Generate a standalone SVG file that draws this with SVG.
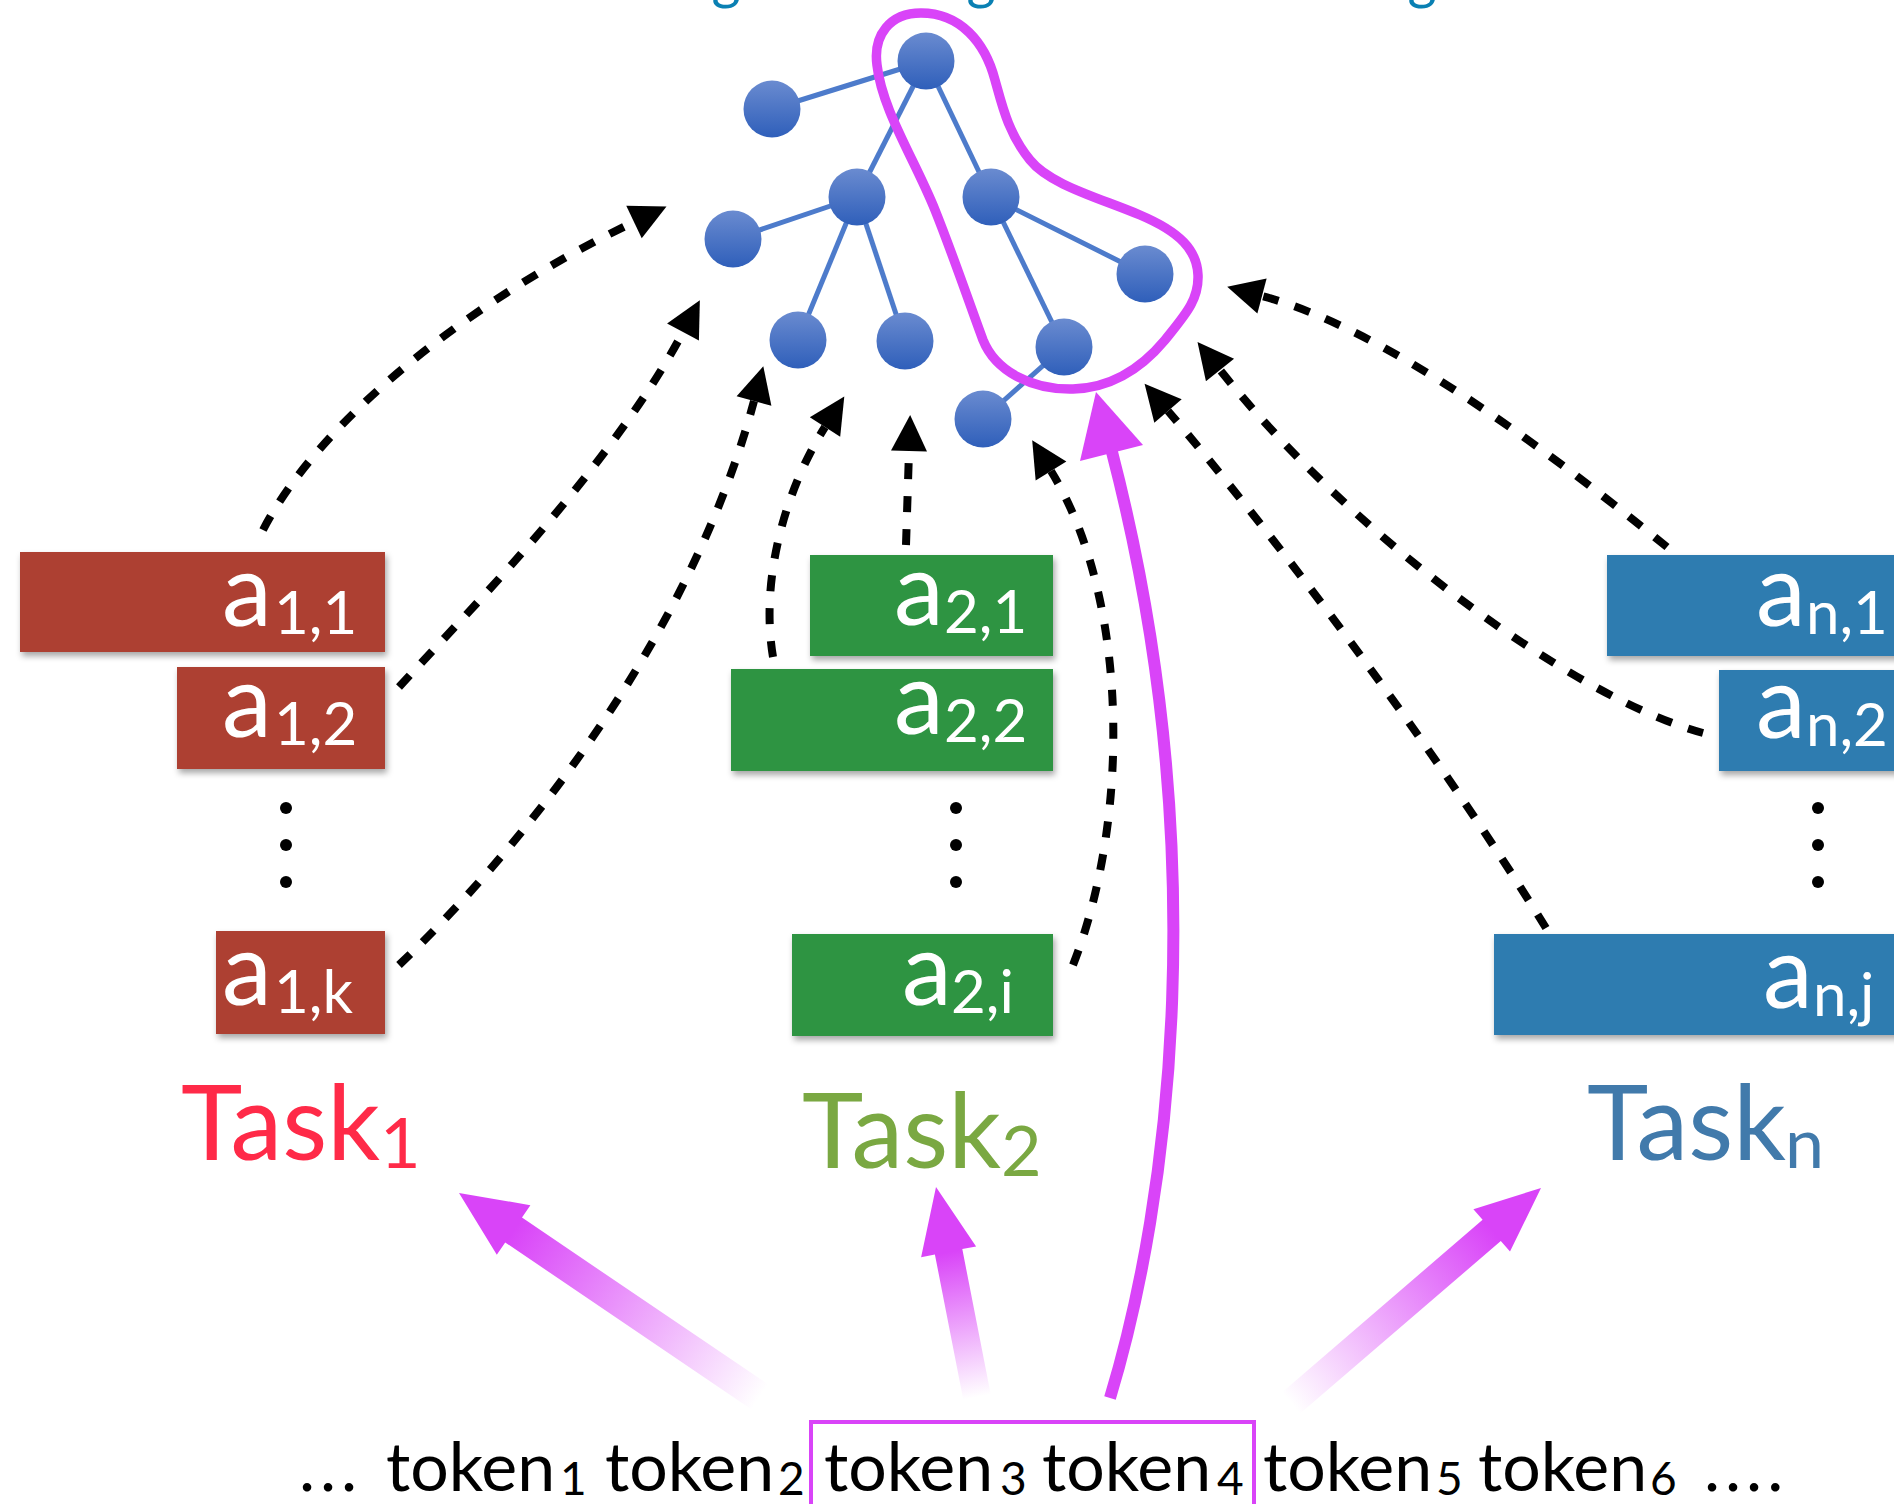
<svg xmlns="http://www.w3.org/2000/svg" width="1894" height="1504" viewBox="0 0 1894 1504">
  <defs>
    <style>
      .lbl { font-family: Lato, "Liberation Sans", sans-serif; font-size: 100px; fill: #ffffff; }
      .sub { font-size: 60px; }
      .task { font-family: Lato, "Liberation Sans", sans-serif; font-size: 104px; }
      .tsub { font-size: 70px; }
      .tok { font-family: Lato, "Liberation Sans", sans-serif; font-size: 68px; fill: #000000; }
      .toksub { font-size: 46px; }
      .ell { letter-spacing: 5px; }
      .ttl { font-family: Lato, "Liberation Sans", sans-serif; font-size: 56px; fill: #0a80b3; text-anchor: middle; }
      .dash { fill: none; stroke: #000000; stroke-width: 8; stroke-dasharray: 16 17; marker-end: url(#head); }
      .edge { stroke: #4d7bcb; stroke-width: 5; }
      .node { fill: url(#nodeFill); }
      .dot { fill: #000000; }
      .red { fill: #ad4131; }
      .green { fill: #2f9442; }
      .blue { fill: #2f7bb0; }
      .box { filter: url(#shadow); }
      .mag { fill: none; stroke: #d944f8; }
    </style>
    <linearGradient id="nodeFill" x1="0" y1="0" x2="0" y2="1">
      <stop offset="0" stop-color="#6a8bd0"/>
      <stop offset="1" stop-color="#2f5fba"/>
    </linearGradient>
    <marker id="head" markerUnits="userSpaceOnUse" markerWidth="36" markerHeight="36" viewBox="0 0 36 36" refX="0" refY="18" orient="auto" overflow="visible">
      <path d="M0,0 L36,18 L0,36 Z" fill="#000000"/>
    </marker>
    <filter id="shadow" x="-10%" y="-20%" width="125%" height="150%">
      <feDropShadow dx="2" dy="4" stdDeviation="3" flood-color="#000000" flood-opacity="0.35"/>
    </filter>
    <linearGradient id="fade1" gradientUnits="userSpaceOnUse" x1="760" y1="1397" x2="514" y2="1230">
      <stop offset="0" stop-color="#d944f8" stop-opacity="0"/>
      <stop offset="1" stop-color="#d944f8" stop-opacity="1"/>
    </linearGradient>
    <linearGradient id="fade2" gradientUnits="userSpaceOnUse" x1="977" y1="1397" x2="949" y2="1252">
      <stop offset="0" stop-color="#d944f8" stop-opacity="0"/>
      <stop offset="1" stop-color="#d944f8" stop-opacity="1"/>
    </linearGradient>
    <linearGradient id="fade3" gradientUnits="userSpaceOnUse" x1="1291" y1="1403" x2="1492" y2="1230">
      <stop offset="0" stop-color="#d944f8" stop-opacity="0"/>
      <stop offset="1" stop-color="#d944f8" stop-opacity="1"/>
    </linearGradient>
  </defs>

  <rect x="0" y="0" width="1894" height="1504" fill="#ffffff"/>

  <!-- heading, clipped by the top edge -->
  <g id="heading">
    <text class="ttl" x="726" y="-2">g</text>
    <text class="ttl" x="981" y="-2">g</text>
    <text class="ttl" x="1422" y="-2">g</text>
  </g>

  <!-- tree -->
  <g id="tree-edges">
    <line class="edge" x1="926" y1="61" x2="772" y2="109"/>
    <line class="edge" x1="926" y1="61" x2="857" y2="197"/>
    <line class="edge" x1="926" y1="61" x2="991" y2="197"/>
    <line class="edge" x1="857" y1="197" x2="733" y2="239"/>
    <line class="edge" x1="857" y1="197" x2="798" y2="340"/>
    <line class="edge" x1="857" y1="197" x2="905" y2="341"/>
    <line class="edge" x1="991" y1="197" x2="1145" y2="274"/>
    <line class="edge" x1="991" y1="197" x2="1064" y2="347"/>
    <line class="edge" x1="1064" y1="347" x2="983" y2="419"/>
  </g>
  <g id="tree-root"><circle class="node" cx="926" cy="61" r="28.5"/></g>
  <g id="tree-n1"><circle class="node" cx="772" cy="109" r="28.5"/></g>
  <g id="tree-n2"><circle class="node" cx="857" cy="197" r="28.5"/></g>
  <g id="tree-n3"><circle class="node" cx="991" cy="197" r="28.5"/></g>
  <g id="tree-n4"><circle class="node" cx="733" cy="239" r="28.5"/></g>
  <g id="tree-n5"><circle class="node" cx="1145" cy="274" r="28.5"/></g>
  <g id="tree-n6"><circle class="node" cx="798" cy="340" r="28.5"/></g>
  <g id="tree-n7"><circle class="node" cx="905" cy="341" r="28.5"/></g>
  <g id="tree-n8"><circle class="node" cx="1064" cy="347" r="28.5"/></g>
  <g id="tree-n9"><circle class="node" cx="983" cy="419" r="28.5"/></g>

  <!-- highlighted path -->
  <g id="path-loop">
    <path class="mag" stroke-width="9.5" d="M921,13 C890,13 873,35 877,65 C882,110 915,160 935,210 C953,255 970,305 983,340 C995,370 1030,390 1073,389 C1110,388 1140,370 1165,340 C1185,315 1199,300 1198,275 C1197,250 1180,232 1140,215 C1100,198 1050,185 1030,160 C1008,133 1002,105 995,80 C985,42 960,13 921,13 Z"/>
  </g>

  <!-- Task 1 -->
  <g id="a1-1" class="box"><rect class="red" x="20" y="552" width="365" height="100"/>
    <text class="lbl" x="222" y="626">a<tspan class="sub" x="274" dy="8">1,1</tspan></text></g>
  <g id="a1-2" class="box"><rect class="red" x="177" y="667" width="208" height="102"/>
    <text class="lbl" x="222" y="737">a<tspan class="sub" x="274" dy="8">1,2</tspan></text></g>
  <g id="a1-k" class="box"><rect class="red" x="216" y="931" width="169" height="103"/>
    <text class="lbl" x="222" y="1005">a<tspan class="sub" x="274" dy="8">1,k</tspan></text></g>
  <g id="dots1"><circle class="dot" cx="286" cy="808" r="6"/><circle class="dot" cx="286" cy="845" r="6"/><circle class="dot" cx="286" cy="882" r="6"/></g>
  <g id="task1"><text class="task" x="181" y="1160" fill="#ff2a48">Task<tspan class="tsub" x="380" dy="8">1</tspan></text></g>

  <!-- Task 2 -->
  <g id="a2-1" class="box"><rect class="green" x="810" y="555" width="243" height="101"/>
    <text class="lbl" x="894" y="625">a<tspan class="sub" x="944" dy="8">2,1</tspan></text></g>
  <g id="a2-2" class="box"><rect class="green" x="731" y="669" width="322" height="102"/>
    <text class="lbl" x="894" y="734">a<tspan class="sub" x="944" dy="8">2,2</tspan></text></g>
  <g id="a2-i" class="box"><rect class="green" x="792" y="934" width="261" height="102"/>
    <text class="lbl" x="902" y="1005">a<tspan class="sub" x="951" dy="8">2,i</tspan></text></g>
  <g id="dots2"><circle class="dot" cx="956" cy="808" r="6"/><circle class="dot" cx="956" cy="845" r="6"/><circle class="dot" cx="956" cy="882" r="6"/></g>
  <g id="task2"><text class="task" x="802" y="1168" fill="#7aa842">Task<tspan class="tsub" x="1001" dy="8">2</tspan></text></g>

  <!-- Task n -->
  <g id="an-1" class="box"><rect class="blue" x="1607" y="555" width="320" height="101"/>
    <text class="lbl" x="1756" y="626">a<tspan class="sub" x="1806" dy="8">n,1</tspan></text></g>
  <g id="an-2" class="box"><rect class="blue" x="1719" y="670" width="200" height="101"/>
    <text class="lbl" x="1756" y="738">a<tspan class="sub" x="1806" dy="8">n,2</tspan></text></g>
  <g id="an-j" class="box"><rect class="blue" x="1494" y="934" width="430" height="101"/>
    <text class="lbl" x="1763" y="1008">a<tspan class="sub" x="1813" dy="8">n,j</tspan></text></g>
  <g id="dotsn"><circle class="dot" cx="1818" cy="808" r="6"/><circle class="dot" cx="1818" cy="845" r="6"/><circle class="dot" cx="1818" cy="882" r="6"/></g>
  <g id="taskn"><text class="task" x="1587" y="1160" fill="#417aab">Task<tspan class="tsub" x="1785" dy="8">n</tspan></text></g>

  <!-- token sequence -->
  <g id="tokens">
    <text class="tok ell" x="299" y="1491">...</text>
    <text class="tok" x="386" y="1491">token<tspan class="toksub" x="560" dy="4">1</tspan></text>
    <text class="tok" x="605" y="1491">token<tspan class="toksub" x="778" dy="4">2</tspan></text>
    <text class="tok" x="824" y="1491">token<tspan class="toksub" x="1000" dy="4">3</tspan></text>
    <text class="tok" x="1042" y="1491">token<tspan class="toksub" x="1217" dy="4">4</tspan></text>
    <text class="tok" x="1263" y="1491">token<tspan class="toksub" x="1436" dy="4">5</tspan></text>
    <text class="tok" x="1478" y="1491">token<tspan class="toksub" x="1650" dy="4">6</tspan></text>
    <text class="tok ell" x="1704" y="1491">....</text>
  </g>
  <g id="token-window">
    <rect x="811" y="1422" width="443" height="110" fill="none" stroke="#d944f8" stroke-width="4"/>
  </g>

  <!-- connectors -->
  <g id="connectors">
    <path class="dash" d="M263,530 C320,420 470,300 634,222"/>
    <path class="dash" d="M399,687 C460,620 610,470 683,332"/>
    <path class="dash" d="M399,965 C520,850 690,640 754,401"/>
    <path class="dash" d="M773,657 C760,580 785,490 825,427"/>
    <path class="dash" d="M906,545 L909,451"/>
    <path class="dash" d="M1073,965 C1130,820 1130,600 1051,471"/>
    <path class="dash" d="M1546,928 C1430,740 1270,530 1168,411"/>
    <path class="dash" d="M1703,733 C1580,700 1360,545 1220,370"/>
    <path class="dash" d="M1667,547 C1560,460 1390,330 1262,296"/>

    <!-- token window to tree -->
    <path class="mag" stroke-width="12" d="M1110,1398 C1170,1200 1215,850 1112,452"/>
    <polygon fill="#d944f8" points="1096,392 1143,445 1080,461"/>

    <!-- token window to tasks -->
    <polygon fill="url(#fade1)" points="768.4,1384.6 522,1217.6 530.4,1205.2 459,1193 496.8,1254.8 505.2,1242.4 751.6,1409.4"/>
    <polygon fill="url(#fade2)" points="990.7,1394.3 962.3,1249.1 976.1,1246.4 936,1187 921.1,1257.2 934.9,1254.5 963.3,1399.7"/>
    <polygon fill="url(#fade3)" points="1300.1,1413.6 1500.8,1241 1510,1251.6 1541,1188 1473.4,1209.2 1482.6,1219.8 1281.9,1392.4"/>
  </g>
</svg>
